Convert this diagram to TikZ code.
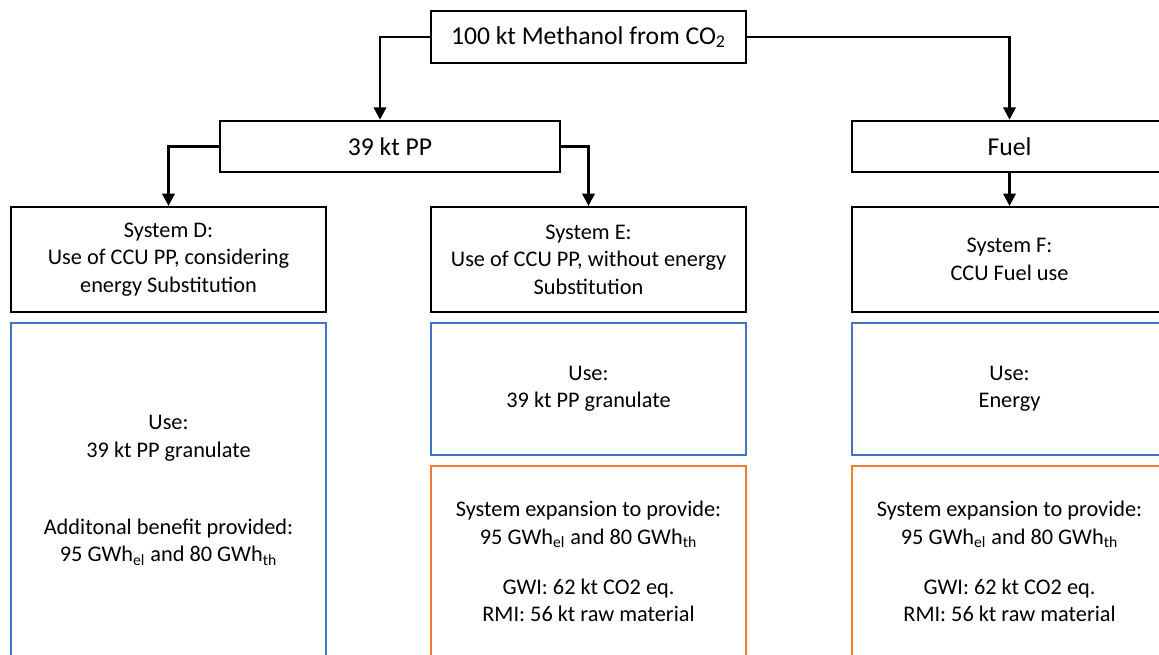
\documentclass[tikz,border=0pt]{standalone}
\usepackage{fontspec}
\setmainfont{Carlito}
\usetikzlibrary{arrows.meta}

\definecolor{useblue}{HTML}{4472C4}
\definecolor{exporange}{HTML}{ED7D31}

\newcommand*{\colw}{6.3cm}
\newcommand*{\xmax}{1159}
\newcommand*{\ymax}{654}

\begin{document}
\begin{tikzpicture}
[
	x=0.02cm, y=-0.02cm,
	headbox/.style={draw,line width=1.2pt,minimum height=1.03cm,inner sep=0pt,font=\fontsize{14.6}{17.5}\selectfont},
	sysbox/.style={draw,line width=1.2pt,minimum width=\colw,minimum height=2.1cm,inner sep=0pt,align=center,font=\fontsize{12.7}{15.6}\selectfont},
	usebox/.style={draw=useblue,line width=0.9pt,minimum width=\colw,inner sep=0pt,align=center,font=\fontsize{12.7}{15.6}\selectfont},
	expbox/.style={draw=exporange,line width=0.9pt,minimum width=\colw,minimum height=4.28cm,inner sep=0pt},
	txt/.style={align=center,inner sep=0pt,font=\fontsize{12.7}{15.6}\selectfont},
	arr/.style={-{Triangle[length=7pt,width=7pt]},line width=1.4pt}
]

	% frame
	\useasboundingbox (0,0) rectangle (\xmax,\ymax);
	\clip (0,0) rectangle (\xmax,\ymax);

	% top levels
	\node[headbox,minimum width=\colw] at (588.5,37) (meth) {100 kt Methanol from CO\textsubscript{2}};
	\node[headbox,minimum width=6.8cm] at (390,146.5) (pp) {39 kt PP};
	\node[headbox,minimum width=\colw] at (1009.5,146.5) (fuel) {Fuel};

	% systems
	\node[sysbox] at (168.5,259.5) (sysD) {System D:\\Use of CCU PP, considering\\energy Substitution};
	\node[sysbox] at (588.5,259.5) (sysE) {System E:\\Use of CCU PP, without energy\\Substitution};
	\node[sysbox] at (1009.5,259.5) (sysF) {System F:\\CCU Fuel use};

	% use
	\node[usebox,minimum height=7.14cm] at (168.5,501.5) (useD) {};
	\node[txt] at (168.5,490.5) (useDtxt) {Use:\\39 kt PP granulate\\[28.5pt]Additonal benefit provided:\\95 GWh\textsubscript{el} and 80 GWh\textsubscript{th}};
	\node[usebox,minimum height=2.64cm] at (588.5,389) (useE) {Use:\\39 kt PP granulate};
	\node[usebox,minimum height=2.64cm] at (1009.5,389) (useF) {Use:\\Energy};

	% system expansion
	\node[expbox] at (588.5,573) (expE) {};
	\node[txt] at (588.5,561.5) (expEtxt) {System expansion to provide:\\95 GWh\textsubscript{el} and 80 GWh\textsubscript{th}\\[13pt]GWI: 62 kt CO2 eq.\\RMI: 56 kt raw material};
	\node[expbox] at (1009.5,573) (expF) {};
	\node[txt] at (1009.5,561.5) (expFtxt) {System expansion to provide:\\95 GWh\textsubscript{el} and 80 GWh\textsubscript{th}\\[13pt]GWI: 62 kt CO2 eq.\\RMI: 56 kt raw material};

	% arrows
	\draw[arr] (meth.west) -| ([xshift=-0.2cm]pp.north);
	\draw[arr] (meth.east) -| (fuel.north);
	\draw[arr] (pp.west) -| (sysD.north);
	\draw[arr] (pp.east) -| (sysE.north);
	\draw[arr] (fuel.south) -- (sysF.north);

\end{tikzpicture}
\end{document}
